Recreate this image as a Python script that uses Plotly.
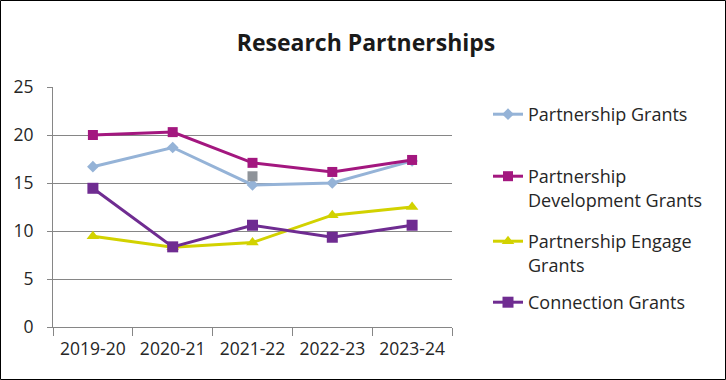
import plotly.graph_objects as go

years = ["2019-20", "2020-21", "2021-22", "2022-23", "2023-24"]
partnership = [16.7, 18.7, 14.8, 15.0, 17.3]
development = [20.0, 20.3, 17.1, 16.15, 17.4]
engage = [9.45, 8.3, 8.8, 11.65, 12.5]
connection = [14.45, 8.35, 10.6, 9.35, 10.6]
stray_x = ["2021-22"]
stray_y = [15.7]

series = [
    ("Partnership Grants", partnership, "#95B3D7", "diamond", 9),
    ("Partnership<br>Development Grants", development, "#A3177F", "square", 10),
    ("Partnership Engage<br>Grants", engage, "#D2D200", "triangle-up", 11),
    ("Connection Grants", connection, "#6F2C91", "square", 11),
]
legend_first_line_px = [115, 177, 242, 303]

L, R, T, B = 53, 274, 87, 53
W, H = 726, 380
pw, ph = W - L - R, H - T - B

fig = go.Figure()
legend_layouts = {}
for i, (name, vals, color, sym, sz) in enumerate(series):
    lname = "legend" if i == 0 else f"legend{i + 1}"
    fig.add_trace(go.Scatter(
        x=years, y=vals, name=name, mode="lines+markers",
        line=dict(color=color, width=3),
        marker=dict(symbol=sym, size=sz, color=color),
        legend=lname,
    ))
    top_px = legend_first_line_px[i] - 19
    legend_layouts[lname] = dict(
        x=(488 - L) / pw, xanchor="left",
        y=1 - (top_px - T) / ph, yanchor="top",
        valign="top", itemwidth=30,
        font=dict(size=18, color="#262626"), bgcolor="rgba(0,0,0,0)",
    )
fig.add_trace(go.Scatter(
    x=stray_x, y=stray_y, mode="markers", showlegend=False,
    marker=dict(symbol="square", size=10, color="#8E9399"),
))

fig.update_layout(
    width=W, height=H,
    margin=dict(l=L, r=R, t=T, b=B),
    paper_bgcolor="white", plot_bgcolor="white",
    font=dict(family="Open Sans, Noto Sans, sans-serif", size=15, color="#262626"),
    title=dict(text="<b>Research Partnerships</b>", x=366 / W, xanchor="center",
               y=1 - 43 / H, yanchor="middle",
               font=dict(size=23, color="#1a1a1a")),
    xaxis=dict(type="category", range=[-0.5, 4.5], tickson="boundaries",
               ticks="outside", ticklen=8, tickcolor="#868686",
               showline=True, linecolor="#868686", linewidth=1,
               showgrid=False, zeroline=False,
               tickfont=dict(size=17.5), ticklabelstandoff=6),
    yaxis=dict(range=[0, 25], dtick=5, ticks="outside", ticklen=5,
               tickcolor="#868686", showline=True, linecolor="#868686",
               showgrid=True, gridcolor="#868686", gridwidth=1,
               zeroline=False, tickfont=dict(size=17.5), ticklabelstandoff=10),
    showlegend=True,
    shapes=[dict(type="rect", xref="paper", yref="paper",
                 x0=(0.5 - L) / pw, x1=(W - 0.5 - L) / pw,
                 y0=-(B - 0.5) / ph, y1=1 + (T - 0.5) / ph,
                 line=dict(color="black", width=1))],
    **legend_layouts,
)

fig.write_html("out.html")
